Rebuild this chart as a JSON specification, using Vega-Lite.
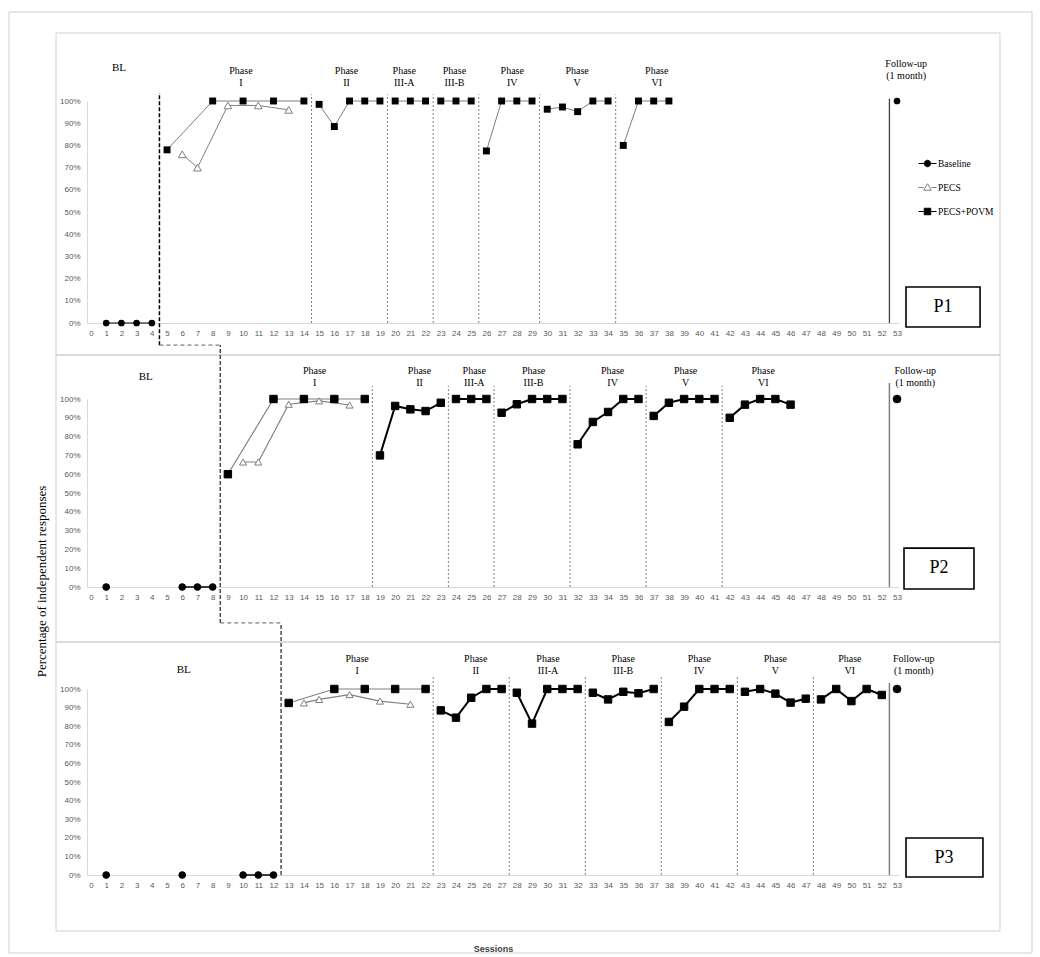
{
  "$schema": "https://vega.github.io/schema/vega-lite/v6.json",
  "background": "white",
  "padding": {"left": 8, "top": 11, "right": 0, "bottom": 0},
  "datasets": {
    "obs": [
      {"p":"P1","s":1,"v":0,"series":"Baseline","ph":"BL"},
      {"p":"P1","s":2,"v":0,"series":"Baseline","ph":"BL"},
      {"p":"P1","s":3,"v":0,"series":"Baseline","ph":"BL"},
      {"p":"P1","s":4,"v":0,"series":"Baseline","ph":"BL"},
      {"p":"P1","s":5,"v":0.78,"series":"PECS+POVM","ph":"I"},
      {"p":"P1","s":8,"v":1,"series":"PECS+POVM","ph":"I"},
      {"p":"P1","s":10,"v":1,"series":"PECS+POVM","ph":"I"},
      {"p":"P1","s":12,"v":1,"series":"PECS+POVM","ph":"I"},
      {"p":"P1","s":14,"v":1,"series":"PECS+POVM","ph":"I"},
      {"p":"P1","s":6,"v":0.76,"series":"PECS","ph":"I"},
      {"p":"P1","s":7,"v":0.70,"series":"PECS","ph":"I"},
      {"p":"P1","s":9,"v":0.98,"series":"PECS","ph":"I"},
      {"p":"P1","s":11,"v":0.98,"series":"PECS","ph":"I"},
      {"p":"P1","s":13,"v":0.96,"series":"PECS","ph":"I"},
      {"p":"P1","s":15,"v":0.985,"series":"PECS+POVM","ph":"II"},
      {"p":"P1","s":16,"v":0.885,"series":"PECS+POVM","ph":"II"},
      {"p":"P1","s":17,"v":1,"series":"PECS+POVM","ph":"II"},
      {"p":"P1","s":18,"v":1,"series":"PECS+POVM","ph":"II"},
      {"p":"P1","s":19,"v":1,"series":"PECS+POVM","ph":"II"},
      {"p":"P1","s":20,"v":1,"series":"PECS+POVM","ph":"IIIA"},
      {"p":"P1","s":21,"v":1,"series":"PECS+POVM","ph":"IIIA"},
      {"p":"P1","s":22,"v":1,"series":"PECS+POVM","ph":"IIIA"},
      {"p":"P1","s":23,"v":1,"series":"PECS+POVM","ph":"IIIB"},
      {"p":"P1","s":24,"v":1,"series":"PECS+POVM","ph":"IIIB"},
      {"p":"P1","s":25,"v":1,"series":"PECS+POVM","ph":"IIIB"},
      {"p":"P1","s":26,"v":0.775,"series":"PECS+POVM","ph":"IV"},
      {"p":"P1","s":27,"v":1,"series":"PECS+POVM","ph":"IV"},
      {"p":"P1","s":28,"v":1,"series":"PECS+POVM","ph":"IV"},
      {"p":"P1","s":29,"v":1,"series":"PECS+POVM","ph":"IV"},
      {"p":"P1","s":30,"v":0.963,"series":"PECS+POVM","ph":"V"},
      {"p":"P1","s":31,"v":0.973,"series":"PECS+POVM","ph":"V"},
      {"p":"P1","s":32,"v":0.952,"series":"PECS+POVM","ph":"V"},
      {"p":"P1","s":33,"v":1,"series":"PECS+POVM","ph":"V"},
      {"p":"P1","s":34,"v":1,"series":"PECS+POVM","ph":"V"},
      {"p":"P1","s":35,"v":0.80,"series":"PECS+POVM","ph":"VI"},
      {"p":"P1","s":36,"v":1,"series":"PECS+POVM","ph":"VI"},
      {"p":"P1","s":37,"v":1,"series":"PECS+POVM","ph":"VI"},
      {"p":"P1","s":38,"v":1,"series":"PECS+POVM","ph":"VI"},
      {"p":"P1","s":53,"v":1,"series":"Follow-up","ph":"FU"},

      {"p":"P2","s":1,"v":0,"series":"Baseline","ph":"BL"},
      {"p":"P2","s":2,"v":null,"series":"Baseline","ph":"BL"},
      {"p":"P2","s":3,"v":null,"series":"Baseline","ph":"BL"},
      {"p":"P2","s":4,"v":null,"series":"Baseline","ph":"BL"},
      {"p":"P2","s":5,"v":null,"series":"Baseline","ph":"BL"},
      {"p":"P2","s":6,"v":0,"series":"Baseline","ph":"BL"},
      {"p":"P2","s":7,"v":0,"series":"Baseline","ph":"BL"},
      {"p":"P2","s":8,"v":0,"series":"Baseline","ph":"BL"},
      {"p":"P2","s":9,"v":0.60,"series":"PECS+POVM","ph":"I"},
      {"p":"P2","s":12,"v":1,"series":"PECS+POVM","ph":"I"},
      {"p":"P2","s":14,"v":1,"series":"PECS+POVM","ph":"I"},
      {"p":"P2","s":16,"v":1,"series":"PECS+POVM","ph":"I"},
      {"p":"P2","s":18,"v":1,"series":"PECS+POVM","ph":"I"},
      {"p":"P2","s":10,"v":0.665,"series":"PECS","ph":"I"},
      {"p":"P2","s":11,"v":0.665,"series":"PECS","ph":"I"},
      {"p":"P2","s":13,"v":0.972,"series":"PECS","ph":"I"},
      {"p":"P2","s":15,"v":0.99,"series":"PECS","ph":"I"},
      {"p":"P2","s":17,"v":0.968,"series":"PECS","ph":"I"},
      {"p":"P2","s":19,"v":0.70,"series":"PECS+POVM","ph":"II"},
      {"p":"P2","s":20,"v":0.963,"series":"PECS+POVM","ph":"II"},
      {"p":"P2","s":21,"v":0.945,"series":"PECS+POVM","ph":"II"},
      {"p":"P2","s":22,"v":0.936,"series":"PECS+POVM","ph":"II"},
      {"p":"P2","s":23,"v":0.98,"series":"PECS+POVM","ph":"II"},
      {"p":"P2","s":24,"v":1,"series":"PECS+POVM","ph":"IIIA"},
      {"p":"P2","s":25,"v":1,"series":"PECS+POVM","ph":"IIIA"},
      {"p":"P2","s":26,"v":1,"series":"PECS+POVM","ph":"IIIA"},
      {"p":"P2","s":27,"v":0.927,"series":"PECS+POVM","ph":"IIIB"},
      {"p":"P2","s":28,"v":0.972,"series":"PECS+POVM","ph":"IIIB"},
      {"p":"P2","s":29,"v":1,"series":"PECS+POVM","ph":"IIIB"},
      {"p":"P2","s":30,"v":1,"series":"PECS+POVM","ph":"IIIB"},
      {"p":"P2","s":31,"v":1,"series":"PECS+POVM","ph":"IIIB"},
      {"p":"P2","s":32,"v":0.759,"series":"PECS+POVM","ph":"IV"},
      {"p":"P2","s":33,"v":0.878,"series":"PECS+POVM","ph":"IV"},
      {"p":"P2","s":34,"v":0.931,"series":"PECS+POVM","ph":"IV"},
      {"p":"P2","s":35,"v":1,"series":"PECS+POVM","ph":"IV"},
      {"p":"P2","s":36,"v":1,"series":"PECS+POVM","ph":"IV"},
      {"p":"P2","s":37,"v":0.91,"series":"PECS+POVM","ph":"V"},
      {"p":"P2","s":38,"v":0.98,"series":"PECS+POVM","ph":"V"},
      {"p":"P2","s":39,"v":1,"series":"PECS+POVM","ph":"V"},
      {"p":"P2","s":40,"v":1,"series":"PECS+POVM","ph":"V"},
      {"p":"P2","s":41,"v":1,"series":"PECS+POVM","ph":"V"},
      {"p":"P2","s":42,"v":0.90,"series":"PECS+POVM","ph":"VI"},
      {"p":"P2","s":43,"v":0.97,"series":"PECS+POVM","ph":"VI"},
      {"p":"P2","s":44,"v":1,"series":"PECS+POVM","ph":"VI"},
      {"p":"P2","s":45,"v":1,"series":"PECS+POVM","ph":"VI"},
      {"p":"P2","s":46,"v":0.97,"series":"PECS+POVM","ph":"VI"},
      {"p":"P2","s":53,"v":1,"series":"Follow-up","ph":"FU"},

      {"p":"P3","s":1,"v":0,"series":"Baseline","ph":"BL"},
      {"p":"P3","s":2,"v":null,"series":"Baseline","ph":"BL"},
      {"p":"P3","s":3,"v":null,"series":"Baseline","ph":"BL"},
      {"p":"P3","s":4,"v":null,"series":"Baseline","ph":"BL"},
      {"p":"P3","s":5,"v":null,"series":"Baseline","ph":"BL"},
      {"p":"P3","s":6,"v":0,"series":"Baseline","ph":"BL"},
      {"p":"P3","s":7,"v":null,"series":"Baseline","ph":"BL"},
      {"p":"P3","s":8,"v":null,"series":"Baseline","ph":"BL"},
      {"p":"P3","s":9,"v":null,"series":"Baseline","ph":"BL"},
      {"p":"P3","s":10,"v":0,"series":"Baseline","ph":"BL"},
      {"p":"P3","s":11,"v":0,"series":"Baseline","ph":"BL"},
      {"p":"P3","s":12,"v":0,"series":"Baseline","ph":"BL"},
      {"p":"P3","s":13,"v":0.925,"series":"PECS+POVM","ph":"I"},
      {"p":"P3","s":16,"v":1,"series":"PECS+POVM","ph":"I"},
      {"p":"P3","s":18,"v":1,"series":"PECS+POVM","ph":"I"},
      {"p":"P3","s":20,"v":1,"series":"PECS+POVM","ph":"I"},
      {"p":"P3","s":22,"v":1,"series":"PECS+POVM","ph":"I"},
      {"p":"P3","s":14,"v":0.925,"series":"PECS","ph":"I"},
      {"p":"P3","s":15,"v":0.944,"series":"PECS","ph":"I"},
      {"p":"P3","s":17,"v":0.97,"series":"PECS","ph":"I"},
      {"p":"P3","s":19,"v":0.935,"series":"PECS","ph":"I"},
      {"p":"P3","s":21,"v":0.918,"series":"PECS","ph":"I"},
      {"p":"P3","s":23,"v":0.885,"series":"PECS+POVM","ph":"II"},
      {"p":"P3","s":24,"v":0.846,"series":"PECS+POVM","ph":"II"},
      {"p":"P3","s":25,"v":0.953,"series":"PECS+POVM","ph":"II"},
      {"p":"P3","s":26,"v":1,"series":"PECS+POVM","ph":"II"},
      {"p":"P3","s":27,"v":1,"series":"PECS+POVM","ph":"II"},
      {"p":"P3","s":28,"v":0.98,"series":"PECS+POVM","ph":"IIIA"},
      {"p":"P3","s":29,"v":0.814,"series":"PECS+POVM","ph":"IIIA"},
      {"p":"P3","s":30,"v":1,"series":"PECS+POVM","ph":"IIIA"},
      {"p":"P3","s":31,"v":1,"series":"PECS+POVM","ph":"IIIA"},
      {"p":"P3","s":32,"v":1,"series":"PECS+POVM","ph":"IIIA"},
      {"p":"P3","s":33,"v":0.98,"series":"PECS+POVM","ph":"IIIB"},
      {"p":"P3","s":34,"v":0.944,"series":"PECS+POVM","ph":"IIIB"},
      {"p":"P3","s":35,"v":0.985,"series":"PECS+POVM","ph":"IIIB"},
      {"p":"P3","s":36,"v":0.977,"series":"PECS+POVM","ph":"IIIB"},
      {"p":"P3","s":37,"v":1,"series":"PECS+POVM","ph":"IIIB"},
      {"p":"P3","s":38,"v":0.823,"series":"PECS+POVM","ph":"IV"},
      {"p":"P3","s":39,"v":0.905,"series":"PECS+POVM","ph":"IV"},
      {"p":"P3","s":40,"v":1,"series":"PECS+POVM","ph":"IV"},
      {"p":"P3","s":41,"v":1,"series":"PECS+POVM","ph":"IV"},
      {"p":"P3","s":42,"v":1,"series":"PECS+POVM","ph":"IV"},
      {"p":"P3","s":43,"v":0.985,"series":"PECS+POVM","ph":"V"},
      {"p":"P3","s":44,"v":1,"series":"PECS+POVM","ph":"V"},
      {"p":"P3","s":45,"v":0.975,"series":"PECS+POVM","ph":"V"},
      {"p":"P3","s":46,"v":0.927,"series":"PECS+POVM","ph":"V"},
      {"p":"P3","s":47,"v":0.948,"series":"PECS+POVM","ph":"V"},
      {"p":"P3","s":48,"v":0.944,"series":"PECS+POVM","ph":"VI"},
      {"p":"P3","s":49,"v":1,"series":"PECS+POVM","ph":"VI"},
      {"p":"P3","s":50,"v":0.935,"series":"PECS+POVM","ph":"VI"},
      {"p":"P3","s":51,"v":1,"series":"PECS+POVM","ph":"VI"},
      {"p":"P3","s":52,"v":0.968,"series":"PECS+POVM","ph":"VI"},
      {"p":"P3","s":53,"v":1,"series":"Follow-up","ph":"FU"}
    ],
    "bounds": [
      {"p":"P1","x":4.5,"k":"bl"},
      {"p":"P1","x":14.5,"k":"ph"},{"p":"P1","x":19.5,"k":"ph"},{"p":"P1","x":22.5,"k":"ph"},
      {"p":"P1","x":25.5,"k":"ph"},{"p":"P1","x":29.5,"k":"ph"},{"p":"P1","x":34.5,"k":"ph"},
      {"p":"P1","x":52.5,"k":"fu"},
      {"p":"P2","x":8.5,"k":"bl"},
      {"p":"P2","x":18.5,"k":"ph"},{"p":"P2","x":23.5,"k":"ph"},{"p":"P2","x":26.5,"k":"ph"},
      {"p":"P2","x":31.5,"k":"ph"},{"p":"P2","x":36.5,"k":"ph"},{"p":"P2","x":41.5,"k":"ph"},
      {"p":"P2","x":52.5,"k":"fu"},
      {"p":"P3","x":12.5,"k":"bl"},
      {"p":"P3","x":22.5,"k":"ph"},{"p":"P3","x":27.5,"k":"ph"},{"p":"P3","x":32.5,"k":"ph"},
      {"p":"P3","x":37.5,"k":"ph"},{"p":"P3","x":42.5,"k":"ph"},{"p":"P3","x":47.5,"k":"ph"},
      {"p":"P3","x":52.5,"k":"fu"}
    ],
    "step": [
      {"p":"P1","x":4.5,"x2":8.5},
      {"p":"P2","x":8.5,"x2":12.5}
    ],
    "labels": [
      {"p":"P1","x":1.84,"t":"BL","k":"bl"},
      {"p":"P1","x":9.86,"t":"Phase\nI","k":"ph"},
      {"p":"P1","x":16.8,"t":"Phase\nII","k":"ph"},
      {"p":"P1","x":20.6,"t":"Phase\nIII-A","k":"ph"},
      {"p":"P1","x":23.9,"t":"Phase\nIII-B","k":"ph"},
      {"p":"P1","x":27.7,"t":"Phase\nIV","k":"ph"},
      {"p":"P1","x":31.96,"t":"Phase\nV","k":"ph"},
      {"p":"P1","x":37.2,"t":"Phase\nVI","k":"ph"},
      {"p":"P1","x":53.6,"t":"Follow-up\n(1 month)","k":"fu"},
      {"p":"P2","x":3.6,"t":"BL","k":"bl"},
      {"p":"P2","x":14.7,"t":"Phase\nI","k":"ph"},
      {"p":"P2","x":21.6,"t":"Phase\nII","k":"ph"},
      {"p":"P2","x":25.2,"t":"Phase\nIII-A","k":"ph"},
      {"p":"P2","x":29.1,"t":"Phase\nIII-B","k":"ph"},
      {"p":"P2","x":34.3,"t":"Phase\nIV","k":"ph"},
      {"p":"P2","x":39.1,"t":"Phase\nV","k":"ph"},
      {"p":"P2","x":44.2,"t":"Phase\nVI","k":"ph"},
      {"p":"P2","x":54.2,"t":"Follow-up\n(1 month)","k":"fu"},
      {"p":"P3","x":6.1,"t":"BL","k":"bl"},
      {"p":"P3","x":17.5,"t":"Phase\nI","k":"ph"},
      {"p":"P3","x":25.3,"t":"Phase\nII","k":"ph"},
      {"p":"P3","x":30.05,"t":"Phase\nIII-A","k":"ph"},
      {"p":"P3","x":35,"t":"Phase\nIII-B","k":"ph"},
      {"p":"P3","x":40,"t":"Phase\nIV","k":"ph"},
      {"p":"P3","x":45,"t":"Phase\nV","k":"ph"},
      {"p":"P3","x":49.9,"t":"Phase\nVI","k":"ph"},
      {"p":"P3","x":54.1,"t":"Follow-up\n(1 month)","k":"fu"}
    ],
    "part": [
      {"p":"P1","name":"P1"},
      {"p":"P2","name":"P2"},
      {"p":"P3","name":"P3"}
    ]
  },
  "bounds": "flush",
  "spacing": 76,
  "resolve": {
    "scale": {"x":"independent","y":"independent","shape":"independent","fill":"independent","stroke":"independent","size":"independent"},
    "legend": {"shape":"independent","fill":"independent","stroke":"independent","size":"independent"}
  },
  "vconcat": [
    {
      "width": 812,
      "height": 222,
      "layer": [
        {"data":{"values":[{}]},"mark":{"type":"rect","filled":false,"stroke":"#d0d0d0","strokeWidth":1},
         "encoding":{"x":{"datum":-5.392,"type":"quantitative"},"x2":{"datum":61.876},"y":{"datum":1.4009,"type":"quantitative"},"y2":{"datum":-2.8378}}},
        {"data":{"values":[{}]},"mark":{"type":"rect","filled":false,"stroke":"#d0d0d0","strokeWidth":1},
         "encoding":{"x":{"datum":-2.301,"type":"quantitative"},"x2":{"datum":59.771},"y":{"datum":1.3063,"type":"quantitative"},"y2":{"datum":-0.1441}}},
        {"data":{"values":[{}]},"mark":{"type":"rect","filled":false,"stroke":"#d0d0d0","strokeWidth":1},
         "encoding":{"x":{"datum":-2.301,"type":"quantitative"},"x2":{"datum":59.771},"y":{"datum":-0.1441,"type":"quantitative"},"y2":{"datum":-1.4369}}},
        {"data":{"values":[{}]},"mark":{"type":"rect","filled":false,"stroke":"#d0d0d0","strokeWidth":1},
         "encoding":{"x":{"datum":-2.301,"type":"quantitative"},"x2":{"datum":59.771},"y":{"datum":-1.4369,"type":"quantitative"},"y2":{"datum":-2.7387}}},
        {"data":{"name":"bounds"},"transform":[{"filter":"datum.p==='P1' && datum.k==='ph'"}],
         "mark":{"type":"rule","stroke":"#7f7f7f","strokeWidth":1,"strokeDash":[2,2]},
         "encoding":{"x":{"field":"x","type":"quantitative"},"y":{"datum":0,"type":"quantitative"},"y2":{"datum":1.03}}},
        {"data":{"name":"bounds"},"transform":[{"filter":"datum.p==='P1' && datum.k==='fu'"}],
         "mark":{"type":"rule","stroke":"#404040","strokeWidth":1.3},
         "encoding":{"x":{"field":"x","type":"quantitative"},"y":{"datum":0,"type":"quantitative"},"y2":{"datum":1.01}}},
        {"data":{"name":"bounds"},"transform":[{"filter":"datum.p==='P1' && datum.k==='bl'"}],
         "mark":{"type":"rule","stroke":"#000000","strokeWidth":1.5,"strokeDash":[4,2]},
         "encoding":{"x":{"field":"x","type":"quantitative"},"y":{"datum":-0.1,"type":"quantitative"},"y2":{"datum":1.036}}},
        {"data":{"name":"step"},"transform":[{"filter":"datum.p==='P1'"}],
         "mark":{"type":"rule","stroke":"#7f7f7f","strokeWidth":1.2,"strokeDash":[4,3]},
         "encoding":{"x":{"field":"x","type":"quantitative"},"x2":{"field":"x2"},"y":{"datum":-0.1,"type":"quantitative"}}},
        {"data":{"name":"obs"},"transform":[{"filter":"datum.p==='P1'"}],
         "mark":{"type":"line","strokeWidth":1,"invalid":"break-paths-filter-domains"},
         "encoding":{
           "x":{"field":"s","type":"quantitative","title":null,"scale":{"domain":[-0.263,53.13],"nice":false,"zero":false},
                "axis":{"title":null,"labelOverlap":false,"tickCount":100,"format":"d","values":[0,1,2,3,4,5,6,7,8,9,10,11,12,13,14,15,16,17,18,19,20,21,22,23,24,25,26,27,28,29,30,31,32,33,34,35,36,37,38,39,40,41,42,43,44,45,46,47,48,49,50,51,52,53]}},
           "y":{"field":"v","type":"quantitative","title":null,"scale":{"domain":[0,1],"nice":false,"zero":false},
                "axis":{"title":null,"labelOverlap":false,"tickCount":100,"values":[0,0.1,0.2,0.3,0.4,0.5,0.6,0.7,0.8,0.9,1],"format":".0%"}},
           "detail":[{"field":"series"},{"field":"ph"}],
           "color":{"condition":{"test":"datum.series==='Baseline'","value":"#000000"},"value":"#7f7f7f"}
         }},
        {"data":{"name":"obs"},"transform":[{"filter":"datum.p==='P1' && datum.v != null && (datum.series==='Baseline' || datum.series==='Follow-up')"}],
         "mark":{"type":"point","shape":"circle","filled":true,"color":"#000000","opacity":1,"size":45},
         "encoding":{"x":{"field":"s","type":"quantitative","title":null},"y":{"field":"v","type":"quantitative","title":null}}},
        {"data":{"name":"obs"},"transform":[{"filter":"datum.p==='P1' && datum.series==='PECS'"}],
         "mark":{"type":"point","shape":"triangle-up","fill":"#ffffff","stroke":"#7f7f7f","strokeWidth":1,"opacity":1,"size":60},
         "encoding":{"x":{"field":"s","type":"quantitative","title":null},"y":{"field":"v","type":"quantitative","title":null}}},
        {"data":{"name":"obs"},"transform":[{"filter":"datum.p==='P1' && datum.series==='PECS+POVM'"}],
         "mark":{"type":"point","shape":"square","filled":true,"color":"#000000","opacity":1,"size":48},
         "encoding":{"x":{"field":"s","type":"quantitative","title":null},"y":{"field":"v","type":"quantitative","title":null}}},
        {"data":{"name":"obs"},"transform":[{"filter":"datum.p==='none'"}],
         "mark":{"type":"point","opacity":1,"strokeWidth":1},
         "encoding":{
           "x":{"field":"s","type":"quantitative","title":null},
           "y":{"field":"v","type":"quantitative","title":null},
           "shape":{"field":"series","type":"nominal",
             "scale":{"domain":["Baseline","PECS","PECS+POVM"],"range":["M-1,0H1M-0.36,0A0.36,0.36,0,1,0,0.36,0A0.36,0.36,0,1,0,-0.36,0Z","M-1,0H-0.42M0.42,0H1M0,-0.42L0.42,0.3H-0.42Z","M-1,0H1M-0.36,-0.36H0.36V0.36H-0.36Z"]},
             "legend":{"title":null,"orient":"none","legendX":831,"legendY":53,"padding":0,"symbolSize":324,"symbolStrokeWidth":1,"rowPadding":9,"labelOffset":1,"labelFont":"Liberation Serif","labelFontSize":9.5,"labelColor":"#000000"}},
           "fill":{"field":"series","type":"nominal","scale":{"domain":["Baseline","PECS","PECS+POVM"],"range":["#000000","#ffffff","#000000"]},
             "legend":{"title":null,"orient":"none","legendX":831,"legendY":53,"padding":0,"symbolSize":324,"symbolStrokeWidth":1,"rowPadding":9,"labelOffset":1,"labelFont":"Liberation Serif","labelFontSize":9.5,"labelColor":"#000000"}},
           "stroke":{"field":"series","type":"nominal","scale":{"domain":["Baseline","PECS","PECS+POVM"],"range":["#000000","#7f7f7f","#000000"]},
             "legend":{"title":null,"orient":"none","legendX":831,"legendY":53,"padding":0,"symbolSize":324,"symbolStrokeWidth":1,"rowPadding":9,"labelOffset":1,"labelFont":"Liberation Serif","labelFontSize":9.5,"labelColor":"#000000"}}
         }},
        {"data":{"name":"labels"},"transform":[{"filter":"datum.p==='P1' && datum.k==='ph'"}],
         "mark":{"type":"text","baseline":"top","align":"center","fontSize":10,"lineBreak":"\n","lineHeight":12,"font":"Liberation Serif","color":"#000000"},
         "encoding":{"x":{"field":"x","type":"quantitative"},"y":{"datum":1.158,"type":"quantitative"},"text":{"field":"t"}}},
        {"data":{"name":"labels"},"transform":[{"filter":"datum.p==='P1' && datum.k==='fu'"}],
         "mark":{"type":"text","baseline":"top","align":"center","fontSize":10,"lineBreak":"\n","lineHeight":12,"font":"Liberation Serif","color":"#000000"},
         "encoding":{"x":{"field":"x","type":"quantitative"},"y":{"datum":1.19,"type":"quantitative"},"text":{"field":"t"}}},
        {"data":{"name":"labels"},"transform":[{"filter":"datum.p==='P1' && datum.k==='bl'"}],
         "mark":{"type":"text","baseline":"top","align":"center","fontSize":11,"font":"Liberation Serif","color":"#000000"},
         "encoding":{"x":{"field":"x","type":"quantitative"},"y":{"datum":1.176,"type":"quantitative"},"text":{"field":"t"}}},
        {"data":{"values":[{}]},"mark":{"type":"rect","filled":false,"stroke":"#000000","strokeWidth":1.6},
         "encoding":{"x":{"datum":53.59,"type":"quantitative"},"x2":{"datum":58.46},"y":{"datum":0.162,"type":"quantitative"},"y2":{"datum":-0.018}}},
        {"data":{"name":"part"},"transform":[{"filter":"datum.p==='P1'"}],
         "mark":{"type":"text","fontSize":18,"font":"Liberation Serif","color":"#000000","baseline":"middle"},
         "encoding":{"x":{"datum":56.02,"type":"quantitative"},"y":{"datum":0.072,"type":"quantitative"},"text":{"field":"name"}}}
      ]
    },
    {
      "width": 812,
      "height": 188,
      "layer": [
        {"data":{"name":"bounds"},"transform":[{"filter":"datum.p==='P2' && datum.k==='ph'"}],
         "mark":{"type":"rule","stroke":"#7f7f7f","strokeWidth":1,"strokeDash":[2,2]},
         "encoding":{"x":{"field":"x","type":"quantitative"},"y":{"datum":0,"type":"quantitative"},"y2":{"datum":1.07}}},
        {"data":{"name":"bounds"},"transform":[{"filter":"datum.p==='P2' && datum.k==='fu'"}],
         "mark":{"type":"rule","stroke":"#7f7f7f","strokeWidth":1.5},
         "encoding":{"x":{"field":"x","type":"quantitative"},"y":{"datum":0,"type":"quantitative"},"y2":{"datum":1.085}}},
        {"data":{"name":"bounds"},"transform":[{"filter":"datum.p==='P2' && datum.k==='bl'"}],
         "mark":{"type":"rule","stroke":"#404040","strokeWidth":1.4,"strokeDash":[4,2]},
         "encoding":{"x":{"field":"x","type":"quantitative"},"y":{"datum":-0.191,"type":"quantitative"},"y2":{"datum":1.287}}},
        {"data":{"name":"step"},"transform":[{"filter":"datum.p==='P2'"}],
         "mark":{"type":"rule","stroke":"#7f7f7f","strokeWidth":1.2,"strokeDash":[4,3]},
         "encoding":{"x":{"field":"x","type":"quantitative"},"x2":{"field":"x2"},"y":{"datum":-0.191,"type":"quantitative"}}},
        {"data":{"name":"obs"},"transform":[{"filter":"datum.p==='P2'"}],
         "mark":{"type":"line","invalid":"break-paths-filter-domains"},
         "encoding":{
           "x":{"field":"s","type":"quantitative","title":null,"scale":{"domain":[-0.263,53.13],"nice":false,"zero":false},
                "axis":{"title":null,"labelOverlap":false,"tickCount":100,"format":"d","values":[0,1,2,3,4,5,6,7,8,9,10,11,12,13,14,15,16,17,18,19,20,21,22,23,24,25,26,27,28,29,30,31,32,33,34,35,36,37,38,39,40,41,42,43,44,45,46,47,48,49,50,51,52,53]}},
           "y":{"field":"v","type":"quantitative","title":"Percentage of independent responses","scale":{"domain":[0,1],"nice":false,"zero":false},
                "axis":{"title":"Percentage of independent responses","labelOverlap":false,"tickCount":100,"values":[0,0.1,0.2,0.3,0.4,0.5,0.6,0.7,0.8,0.9,1],"format":".0%",
                        "titleFontSize":13,"titleX":-46,"titleY":182,"titleAngle":-90,"titleBaseline":"middle","titleAlign":"center"}},
           "detail":[{"field":"series"},{"field":"ph"}],
           "color":{"condition":{"test":"datum.ph==='I'","value":"#808080"},"value":"#000000"},
           "strokeWidth":{"condition":[{"test":"datum.ph==='I'","value":1.2},{"test":"datum.ph==='BL'","value":1.5}],"value":2}
         }},
        {"data":{"name":"obs"},"transform":[{"filter":"datum.p==='P2' && datum.v != null"}],
         "mark":{"type":"point","opacity":1,"strokeWidth":1},
         "encoding":{
           "x":{"field":"s","type":"quantitative","title":null},
           "y":{"field":"v","type":"quantitative","title":"Percentage of independent responses"},
           "shape":{"field":"series","type":"nominal","scale":{"domain":["Baseline","PECS","PECS+POVM","Follow-up"],"range":["circle","triangle-up","square","circle"]},"legend":null},
           "fill":{"field":"series","type":"nominal","scale":{"domain":["Baseline","PECS","PECS+POVM","Follow-up"],"range":["#000000","#ffffff","#000000","#000000"]},"legend":null},
           "stroke":{"field":"series","type":"nominal","scale":{"domain":["Baseline","PECS","PECS+POVM","Follow-up"],"range":["#000000","#7f7f7f","#000000","#000000"]},"legend":null},
           "size":{"field":"series","type":"nominal","scale":{"domain":["Baseline","PECS","PECS+POVM","Follow-up"],"range":[45,60,62,45]},"legend":null}
         }},
        {"data":{"name":"labels"},"transform":[{"filter":"datum.p==='P2' && datum.k!=='bl'"}],
         "mark":{"type":"text","baseline":"top","align":"center","fontSize":10,"lineBreak":"\n","lineHeight":12.5,"font":"Liberation Serif","color":"#000000"},
         "encoding":{"x":{"field":"x","type":"quantitative"},"y":{"datum":1.176,"type":"quantitative"},"text":{"field":"t"}}},
        {"data":{"name":"labels"},"transform":[{"filter":"datum.p==='P2' && datum.k==='bl'"}],
         "mark":{"type":"text","baseline":"top","align":"center","fontSize":11,"font":"Liberation Serif","color":"#000000"},
         "encoding":{"x":{"field":"x","type":"quantitative"},"y":{"datum":1.149,"type":"quantitative"},"text":{"field":"t"}}},
        {"data":{"values":[{}]},"mark":{"type":"rect","filled":false,"stroke":"#000000","strokeWidth":1.6},
         "encoding":{"x":{"datum":53.46,"type":"quantitative"},"x2":{"datum":58.06},"y":{"datum":0.207,"type":"quantitative"},"y2":{"datum":-0.011}}},
        {"data":{"name":"part"},"transform":[{"filter":"datum.p==='P2'"}],
         "mark":{"type":"text","fontSize":18,"font":"Liberation Serif","color":"#000000","baseline":"middle"},
         "encoding":{"x":{"datum":55.76,"type":"quantitative"},"y":{"datum":0.101,"type":"quantitative"},"text":{"field":"name"}}}
      ]
    },
    {
      "width": 812,
      "height": 212,
      "layer": [
        {"data":{"name":"bounds"},"transform":[{"filter":"datum.p==='P3' && datum.k==='ph'"}],
         "mark":{"type":"rule","stroke":"#7f7f7f","strokeWidth":1,"strokeDash":[2,2]},
         "encoding":{"x":{"field":"x","type":"quantitative"},"y":{"datum":0,"type":"quantitative"},"y2":{"datum":1.07}}},
        {"data":{"name":"bounds"},"transform":[{"filter":"datum.p==='P3' && datum.k==='fu'"}],
         "mark":{"type":"rule","stroke":"#7f7f7f","strokeWidth":1.5},
         "encoding":{"x":{"field":"x","type":"quantitative"},"y":{"datum":0,"type":"quantitative"},"y2":{"datum":1.032}}},
        {"data":{"name":"bounds"},"transform":[{"filter":"datum.p==='P3' && datum.k==='bl'"}],
         "mark":{"type":"rule","stroke":"#404040","strokeWidth":1.4,"strokeDash":[4,2]},
         "encoding":{"x":{"field":"x","type":"quantitative"},"y":{"datum":0,"type":"quantitative"},"y2":{"datum":1.355}}},
        {"data":{"name":"obs"},"transform":[{"filter":"datum.p==='P3'"}],
         "mark":{"type":"line","invalid":"break-paths-filter-domains"},
         "encoding":{
           "x":{"field":"s","type":"quantitative","title":"Sessions","scale":{"domain":[-0.263,53.13],"nice":false,"zero":false},
                "axis":{"title":"Sessions","labelOverlap":false,"tickCount":100,"format":"d","values":[0,1,2,3,4,5,6,7,8,9,10,11,12,13,14,15,16,17,18,19,20,21,22,23,24,25,26,27,28,29,30,31,32,33,34,35,36,37,38,39,40,41,42,43,44,45,46,47,48,49,50,51,52,53],
                        "titleFont":"Liberation Sans","titleFontSize":9,"titleFontWeight":"bold","titleColor":"#404040","titleY":73,"titleBaseline":"middle"}},
           "y":{"field":"v","type":"quantitative","title":null,"scale":{"domain":[0,1],"nice":false,"zero":false,"range":[212,26]},
                "axis":{"title":null,"labelOverlap":false,"tickCount":100,"values":[0,0.1,0.2,0.3,0.4,0.5,0.6,0.7,0.8,0.9,1],"format":".0%"}},
           "detail":[{"field":"series"},{"field":"ph"}],
           "color":{"condition":{"test":"datum.ph==='I'","value":"#808080"},"value":"#000000"},
           "strokeWidth":{"condition":[{"test":"datum.ph==='I'","value":1.2},{"test":"datum.ph==='BL'","value":1.5}],"value":2}
         }},
        {"data":{"name":"obs"},"transform":[{"filter":"datum.p==='P3' && datum.v != null"}],
         "mark":{"type":"point","opacity":1,"strokeWidth":1},
         "encoding":{
           "x":{"field":"s","type":"quantitative","title":"Sessions"},
           "y":{"field":"v","type":"quantitative","title":null},
           "shape":{"field":"series","type":"nominal","scale":{"domain":["Baseline","PECS","PECS+POVM","Follow-up"],"range":["circle","triangle-up","square","circle"]},"legend":null},
           "fill":{"field":"series","type":"nominal","scale":{"domain":["Baseline","PECS","PECS+POVM","Follow-up"],"range":["#000000","#ffffff","#000000","#000000"]},"legend":null},
           "stroke":{"field":"series","type":"nominal","scale":{"domain":["Baseline","PECS","PECS+POVM","Follow-up"],"range":["#000000","#7f7f7f","#000000","#000000"]},"legend":null},
           "size":{"field":"series","type":"nominal","scale":{"domain":["Baseline","PECS","PECS+POVM","Follow-up"],"range":[45,60,54,45]},"legend":null}
         }},
        {"data":{"name":"labels"},"transform":[{"filter":"datum.p==='P3' && datum.k!=='bl'"}],
         "mark":{"type":"text","baseline":"top","align":"center","fontSize":10,"lineBreak":"\n","lineHeight":12,"font":"Liberation Serif","color":"#000000"},
         "encoding":{"x":{"field":"x","type":"quantitative"},"y":{"datum":1.188,"type":"quantitative"},"text":{"field":"t"}}},
        {"data":{"name":"labels"},"transform":[{"filter":"datum.p==='P3' && datum.k==='bl'"}],
         "mark":{"type":"text","baseline":"top","align":"center","fontSize":11,"font":"Liberation Serif","color":"#000000"},
         "encoding":{"x":{"field":"x","type":"quantitative"},"y":{"datum":1.134,"type":"quantitative"},"text":{"field":"t"}}},
        {"data":{"values":[{}]},"mark":{"type":"rect","filled":false,"stroke":"#000000","strokeWidth":1.6},
         "encoding":{"x":{"datum":53.59,"type":"quantitative"},"x2":{"datum":58.65},"y":{"datum":0.199,"type":"quantitative"},"y2":{"datum":-0.011}}},
        {"data":{"name":"part"},"transform":[{"filter":"datum.p==='P3'"}],
         "mark":{"type":"text","fontSize":18,"font":"Liberation Serif","color":"#000000","baseline":"middle"},
         "encoding":{"x":{"datum":56.09,"type":"quantitative"},"y":{"datum":0.091,"type":"quantitative"},"text":{"field":"name"}}}
      ]
    }
  ],
  "config": {
    "view": {"stroke": null},
    "axis": {"grid": false, "ticks": false, "tickSize": 0, "labelFont": "Liberation Sans", "labelFontSize": 8, "labelColor": "#595959",
             "domainColor": "#d9d9d9", "domainWidth": 1, "titleFont": "Liberation Serif", "titleFontWeight": "normal", "titleColor": "#000000"},
    "axisX": {"labelPadding": 6, "labelAngle": 0, "labelOverlap": false, "labelFlush": false},
    "axisY": {"labelPadding": 7, "labelOverlap": false}
  }
}
